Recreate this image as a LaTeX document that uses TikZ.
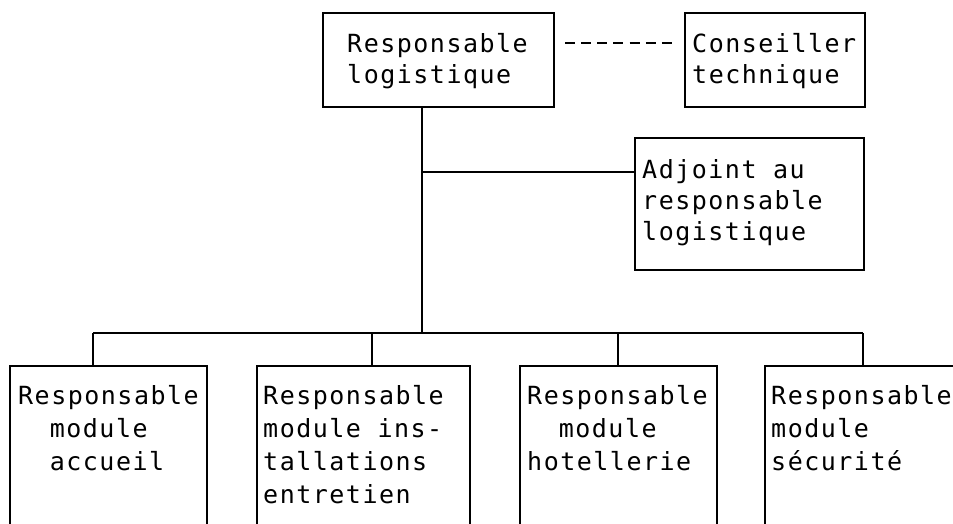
\documentclass[tikz,border=0pt]{standalone}
\usepackage{fontspec}
\newfontfamily\tw{DejaVu Sans Mono}[LetterSpace=6]
\begin{document}
\begin{tikzpicture}[x=1pt,y=-1pt,
  box/.style={draw,line width=1.9pt,inner sep=0pt,outer sep=0pt},
  conn/.style={line width=1.9pt},
  dashline/.style={line width=1.9pt,dash pattern=on 10pt off 6.15pt},
  txt/.style={inner sep=0pt,align=left,font=\tw\fontsize{25}{31}\selectfont},
  btxt/.style={inner sep=0pt,align=left,font=\tw\fontsize{25}{33}\selectfont}]
\useasboundingbox (0,0) rectangle (953,523);
\clip (0,0) rectangle (953,523);
% boxes
\node[box,minimum width=231pt,minimum height=94pt] (top) at (438.5,60) {};
\node[box,minimum width=180pt,minimum height=94pt] (cons) at (775,60) {};
\node[box,minimum width=229pt,minimum height=132pt] (adj) at (749.5,204) {};
\node[box,minimum width=197pt,minimum height=240pt] (b1) at (108.5,486) {};
\node[box,minimum width=213pt,minimum height=240pt] (b2) at (363.5,486) {};
\node[box,minimum width=197pt,minimum height=240pt] (b3) at (618.5,486) {};
\node[box,minimum width=240pt,minimum height=240pt] (b4) at (885,486) {};
% texts (base anchor = baseline of last line)
\node[txt,anchor=base west] (ttop) at (347,83) {Responsable\\logistique};
\node[txt,anchor=base west] (tcons) at (692,83) {Conseiller\\technique};
\node[txt,anchor=base west] (tadj) at (642,240) {Adjoint au\\responsable\\logistique};
\node[btxt,anchor=base west] (tb1) at (18,470) {Responsable\\\hphantom{Re}module\\\hphantom{Re}accueil};
\node[btxt,anchor=base west] (tb2) at (263,503) {Responsable\\module ins-\\tallations\\entretien};
\node[btxt,anchor=base west] (tb3) at (527,470) {Responsable\\\hphantom{Re}module\\hotellerie};
\node[btxt,anchor=base west] (tb4) at (771,470) {Responsable\\module\\sécurité};
% connectors
\coordinate (j1) at (422,172);
\coordinate (j2) at (422,333);
\coordinate (d) at (0,43);
\coordinate (t1) at (93,333);
\coordinate (t2) at (372,333);
\coordinate (t3) at (618,333);
\coordinate (t4) at (863,333);
\draw[conn] (top.south -| j1) -- (j2);
\draw[conn] (j1) -- (adj.west |- j1);
\draw[dashline,shorten <=11pt,shorten >=13pt] (top.east |- d) -- (cons.west |- d);
\draw[conn] (t1) -- (t4);
\foreach \i in {1,2,3,4} {\draw[conn] (t\i) -- (b\i.north -| t\i);}
\end{tikzpicture}
\end{document}
